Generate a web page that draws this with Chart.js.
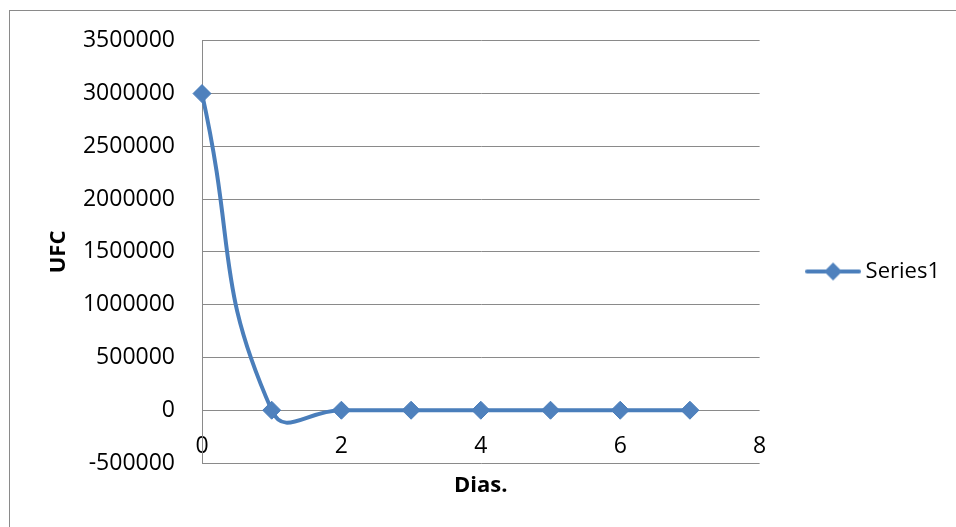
<!DOCTYPE html>
<html>
<head>
<meta charset="utf-8">
<script src="https://cdn.jsdelivr.net/npm/chart.js@4/dist/chart.umd.min.js"></script>
<style>
  html, body { margin: 0; padding: 0; background: #fff; overflow: hidden; }
  #wrap { position: relative; width: 956px; height: 527px; }
  #frame { position: absolute; left: 9px; top: 10px; right: -20px; bottom: -20px; border: 1px solid #8a8a8a; pointer-events: none; }
  canvas { position: absolute; left: 0; top: 0; }
</style>
</head>
<body>
<div id="wrap">
  <canvas id="chart" width="956" height="527"></canvas>
  <div id="frame"></div>
</div>
<script>
// Days of incubation and colony counts (UFC)
const days = [0, 1, 2, 3, 4, 5, 6, 7];
const ufc = [3000000, 0, 0, 0, 0, 0, 0, 0];
const seriesName = 'Series1';

// Axis tick values
const xTicks = [0, 2, 4, 6, 8];
const yTicks = [-500000, 0, 500000, 1000000, 1500000, 2000000, 2500000, 3000000, 3500000];

const lineColor = '#4A7EBB';
const markerFill = '#4F81BD';
const gridColor = '#8a8a8a';
const fontFamily = "'Open Sans', 'Liberation Sans', sans-serif";

// Legend glyph: a short line with a diamond marker on it
function legendGlyph() {
  const c = document.createElement('canvas');
  c.width = 56; c.height = 20;
  const g = c.getContext('2d');
  g.strokeStyle = lineColor;
  g.lineWidth = 4;
  g.lineCap = 'round';
  g.beginPath(); g.moveTo(2, 10); g.lineTo(54, 10); g.stroke();
  g.fillStyle = markerFill;
  g.beginPath();
  g.moveTo(28, 1); g.lineTo(37, 10); g.lineTo(28, 19); g.lineTo(19, 10);
  g.closePath(); g.fill();
  return c;
}

Chart.defaults.font.family = fontFamily;
Chart.defaults.font.size = 22;
Chart.defaults.color = '#000';

new Chart(document.getElementById('chart'), {
  type: 'line',
  data: {
    datasets: [{
      label: seriesName,
      data: days.map((d, i) => ({ x: d, y: ufc[i] })),
      borderColor: lineColor,
      borderWidth: 4,
      tension: 0.5,
      fill: false,
      pointStyle: 'rectRot',
      pointRadius: 9,
      pointBackgroundColor: markerFill,
      pointBorderColor: lineColor,
      pointBorderWidth: 1,
      clip: false
    }]
  },
  options: {
    responsive: false,
    animation: false,
    layout: { padding: { top: 40, left: 0, right: 6, bottom: 64 } },
    plugins: {
      tooltip: { enabled: false },
      legend: {
        position: 'right',
        align: 'center',
        // empty title only pushes the single entry down a little
        title: { display: true, text: '', font: { size: 10 }, padding: { top: 28, bottom: 0 } },
        labels: {
          usePointStyle: true,
          pointStyle: legendGlyph(),
          pointStyleWidth: 43,
          padding: 52,
          font: { size: 22 },
          color: '#000'
        }
      }
    },
    scales: {
      x: {
        type: 'linear',
        // the horizontal axis crosses the vertical one at zero
        position: { y: 0 },
        min: xTicks[0],
        max: xTicks[xTicks.length - 1],
        afterBuildTicks: s => { s.ticks = xTicks.map(v => ({ value: v })); },
        afterFit: s => { s.height = 40; },
        grid: { display: false, drawTicks: false },
        border: { display: false },
        ticks: {
          padding: 22,
          font: { size: 23 },
          maxRotation: 0,
          autoSkip: false,
          callback: v => String(v)
        },
        title: {
          display: true,
          text: 'Dias.',
          font: { size: 22, weight: 'bold' },
          padding: { top: 0, bottom: -48.7 }
        }
      },
      y: {
        type: 'linear',
        position: 'left',
        min: yTicks[0],
        max: yTicks[yTicks.length - 1],
        afterBuildTicks: s => { s.ticks = yTicks.map(v => ({ value: v })); },
        afterFit: s => { s.width = 202; },
        grid: { color: gridColor, lineWidth: 1, drawTicks: false },
        border: { display: true, color: gridColor, width: 1 },
        ticks: {
          padding: 27,
          font: { size: 23 },
          callback: v => String(v)
        },
        title: {
          display: true,
          text: 'UFC',
          font: { size: 22, weight: 'bold' },
          padding: { top: 46, bottom: 0 }
        }
      }
    }
  }
});
</script>
</body>
</html>
